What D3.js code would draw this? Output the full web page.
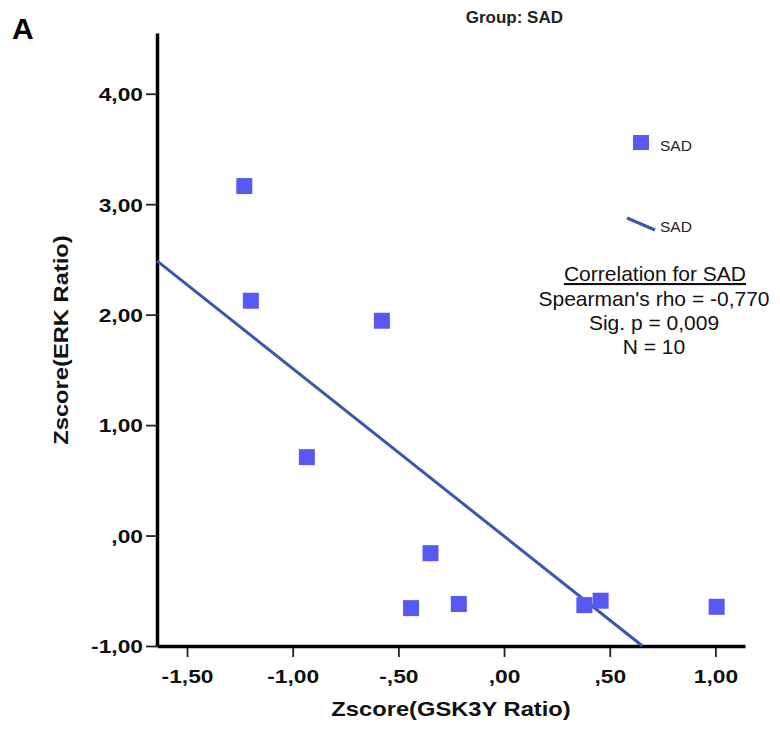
<!DOCTYPE html>
<html>
<head>
<meta charset="utf-8">
<script src="https://cdn.jsdelivr.net/npm/d3@7"></script>
<style>
  body { margin: 0; background: #fff; }
  text { font-family: Arial, "Liberation Sans", sans-serif; }
</style>
</head>
<body>
<div id="chart"></div>
<script>
// Zscore(GSK3Y Ratio) vs Zscore(ERK Ratio), group SAD
const gskZ = [-1.229, -1.198, -0.578, -0.933, -0.348, -0.440, -0.214, 0.380, 0.457, 1.006];
const erkZ = [3.164, 2.126, 1.945, 0.710, -0.160, -0.657, -0.620, -0.630, -0.590, -0.645];
const xTicks = [-1.5, -1.0, -0.5, 0, 0.5, 1.0];
const yTicks = [-1, 0, 1, 2, 3, 4];
const statLines = ["Spearman's rho = -0,770", "Sig. p = 0,009", "N = 10"];

const svgWidth = 780, svgHeight = 734;
const margins = {left: 157, top: 33, right: 35, bottom: 88};
const stretch = 1.2; // the picture's lettering is a bit wide

let x = d3.scaleLinear().domain([-1.642, 1.14]).range([margins.left, svgWidth - margins.right]);
let y = d3.scaleLinear().domain([-1, 4.55]).range([svgHeight - margins.bottom, margins.top]);

// SPSS style numbers: comma decimal, no leading zero
function spss(d) {
    let s = d3.format(".2f")(Math.abs(d)).replace(".", ",");
    if (Math.abs(d) < 1) s = s.replace(/^0/, "");
    return (d < 0 ? "-" : "") + s;
}

let svg = d3.select("#chart").append("svg")
    .attr("width", svgWidth)
    .attr("height", svgHeight);

svg.append("rect").attr("width", svgWidth).attr("height", svgHeight).attr("fill", "#fff");

//Axes
let xAxis = svg.append("g")
    .attr("transform", `translate(0, ${y(-1)})`)
    .call(d3.axisBottom(x).tickValues(xTicks).tickFormat(spss).tickSize(11).tickSizeOuter(0));
let yAxis = svg.append("g")
    .attr("transform", `translate(${x.range()[0]}, 0)`)
    .call(d3.axisLeft(y).tickValues(yTicks).tickFormat(spss).tickSize(11).tickSizeOuter(0));

[xAxis, yAxis].forEach(a => {
    a.select(".domain").attr("stroke", "#000").attr("stroke-width", 3.5);
    a.selectAll(".tick line").attr("stroke", "#222").attr("stroke-width", 1.8);
    a.selectAll(".tick text")
        .attr("fill", "#111")
        .attr("transform", `scale(${stretch},1)`)
        .style("font-size", "19px")
        .style("font-weight", "bold");
});
xAxis.selectAll(".tick line").attr("y1", 2);
xAxis.selectAll(".tick text").attr("y", 37).attr("dy", 0);
yAxis.selectAll(".tick text").attr("x", -14 / stretch).attr("dy", "0.36em");

//Axis titles
svg.append("text")
    .attr("transform", "translate(451, 716) scale(1.13,1)")
    .attr("text-anchor", "middle")
    .style("font-size", "21px").style("font-weight", "bold")
    .attr("fill", "#111")
    .text("Zscore(GSK3Y Ratio)");
svg.append("text")
    .attr("transform", "translate(68, 340) rotate(-90) scale(1.13,1)")
    .attr("text-anchor", "middle")
    .style("font-size", "21px").style("font-weight", "bold")
    .attr("fill", "#111")
    .text("Zscore(ERK Ratio)");

svg.append("text")
    .attr("x", 563).attr("y", 23)
    .attr("text-anchor", "end")
    .style("font-size", "17px").style("font-weight", "bold")
    .attr("fill", "#222")
    .text("Group: SAD");

svg.append("text")
    .attr("x", 12).attr("y", 39)
    .style("font-size", "30px").style("font-weight", "bold")
    .text("A");

//Least squares fit line
const mx = d3.mean(gskZ), my = d3.mean(erkZ);
const slope = d3.sum(gskZ, (d, i) => (d - mx) * (erkZ[i] - my)) / d3.sum(gskZ, d => (d - mx) * (d - mx));
const fit = v => my + slope * (v - mx);
let x0 = x.domain()[0],
    x1 = Math.min(x.domain()[1], mx + (y.domain()[0] - my) / slope);

svg.append("line")
    .attr("x1", x(x0)).attr("y1", y(fit(x0)))
    .attr("x2", x(x1)).attr("y2", y(fit(x1)))
    .attr("stroke", "#3a56ad")
    .attr("stroke-width", 3);

//Points
const sq = 16;
svg.append("g")
    .selectAll("rect")
    .data(gskZ)
    .enter().append("rect")
    .attr("x", (d) => x(d) - sq / 2)
    .attr("y", (d, i) => y(erkZ[i]) - sq / 2)
    .attr("width", sq).attr("height", sq)
    .attr("fill", "#5858f5");

//Legend
let legend = svg.append("g");
legend.append("rect")
    .attr("x", 633).attr("y", 135).attr("width", sq).attr("height", sq - 1)
    .attr("fill", "#5858f5");
legend.append("text")
    .attr("x", 660).attr("y", 151)
    .style("font-size", "15.5px").attr("fill", "#222")
    .text("SAD");
legend.append("line")
    .attr("x1", 627).attr("y1", 218).attr("x2", 655).attr("y2", 230)
    .attr("stroke", "#3a56ad").attr("stroke-width", 3);
legend.append("text")
    .attr("x", 660).attr("y", 232)
    .style("font-size", "15.5px").attr("fill", "#222")
    .text("SAD");

//Correlation box
let stats = svg.append("g").attr("fill", "#111");
stats.append("text")
    .attr("x", 655).attr("y", 281)
    .attr("text-anchor", "middle")
    .style("font-size", "21px")
    .style("text-decoration", "underline")
    .text("Correlation for SAD");
stats.selectAll(".stat")
    .data(statLines)
    .enter().append("text")
    .attr("class", "stat")
    .attr("x", 654)
    .attr("y", (d, i) => 305.5 + i * 24.3)
    .attr("text-anchor", "middle")
    .style("font-size", "21px")
    .text(d => d);
</script>
</body>
</html>
